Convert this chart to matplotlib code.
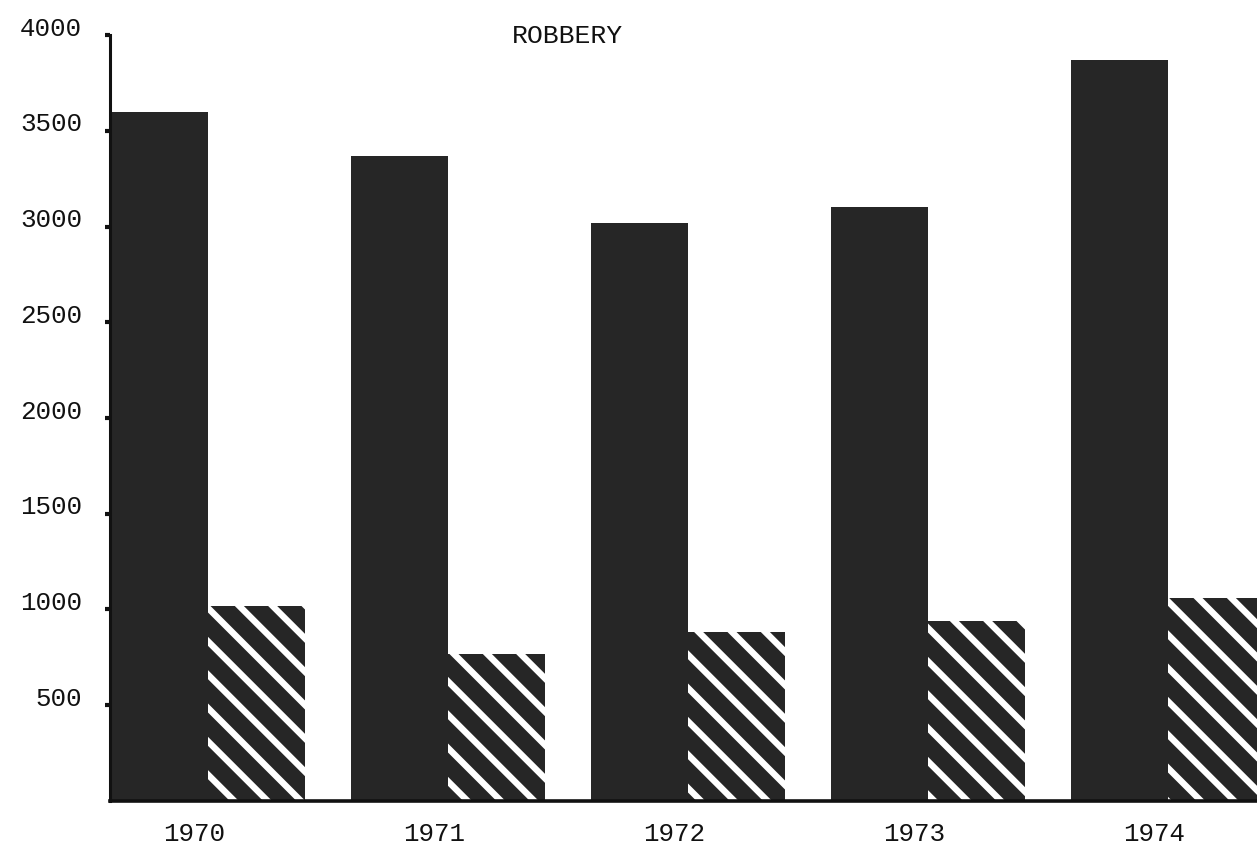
import numpy as np
import matplotlib
matplotlib.use("Agg")
import matplotlib.pyplot as plt
from matplotlib.transforms import ScaledTranslation

years = ["1970", "1971", "1972", "1973", "1974"]
solid_vals = [3600, 3370, 3020, 3100, 3870]
hatched_vals = [1020, 770, 880, 940, 1060]
y_ticks = [500, 1000, 1500, 2000, 2500, 3000, 3500, 4000]

plt.rcParams['font.family'] = ['Liberation Mono', 'DejaVu Sans Mono']
plt.rcParams['hatch.linewidth'] = 2.3

dark = '#262626'

def graph():
    fig = plt.figure(figsize=(6.285, 4.28), dpi=200)
    ax = fig.add_axes([0.0875, 0.0643, 0.9125, 0.8947])

    x = np.arange(len(years))
    w = 0.404
    ax.bar(x - w / 2, solid_vals, w, color=dark, linewidth=0)
    ax.bar(x + w / 2, hatched_vals, w, facecolor=dark, edgecolor='white',
           linewidth=0, hatch='\\\\')

    ax.set_xlim(-0.41, 4.37)
    ax.set_ylim(0, 4000)

    for side in ['top', 'right']:
        ax.spines[side].set_visible(False)
    ax.spines['left'].set_linewidth(1.1)
    ax.spines['bottom'].set_linewidth(1.3)
    ax.spines['left'].set_color('#111111')
    ax.spines['bottom'].set_color('#111111')

    ax.set_yticks(y_ticks)
    ax.set_yticklabels([str(v) for v in y_ticks])
    ax.tick_params(axis='y', direction='out', length=1.8, width=1.5,
                   pad=8.3, labelsize=9.3, colors='#111111')
    ax.set_xticks(x)
    ax.set_xticklabels(years)
    ax.tick_params(axis='x', length=0, pad=7.5, labelsize=9.3, colors='#111111')

    # typed labels sit a little off the tick marks
    up = ScaledTranslation(0, 0.045, fig.dpi_scale_trans)
    for lab in ax.get_yticklabels():
        lab.set_transform(lab.get_transform() + up)
    left = ScaledTranslation(-0.07, 0, fig.dpi_scale_trans)
    for lab in ax.get_xticklabels():
        lab.set_transform(lab.get_transform() + left)

    fig.text(567 / 1257, 1 - 36 / 856, "ROBBERY", ha='center', va='center',
             fontsize=9.5, color='#111111')

    fig.savefig("out.png", dpi=200)


if __name__ == "__main__":
    graph()
